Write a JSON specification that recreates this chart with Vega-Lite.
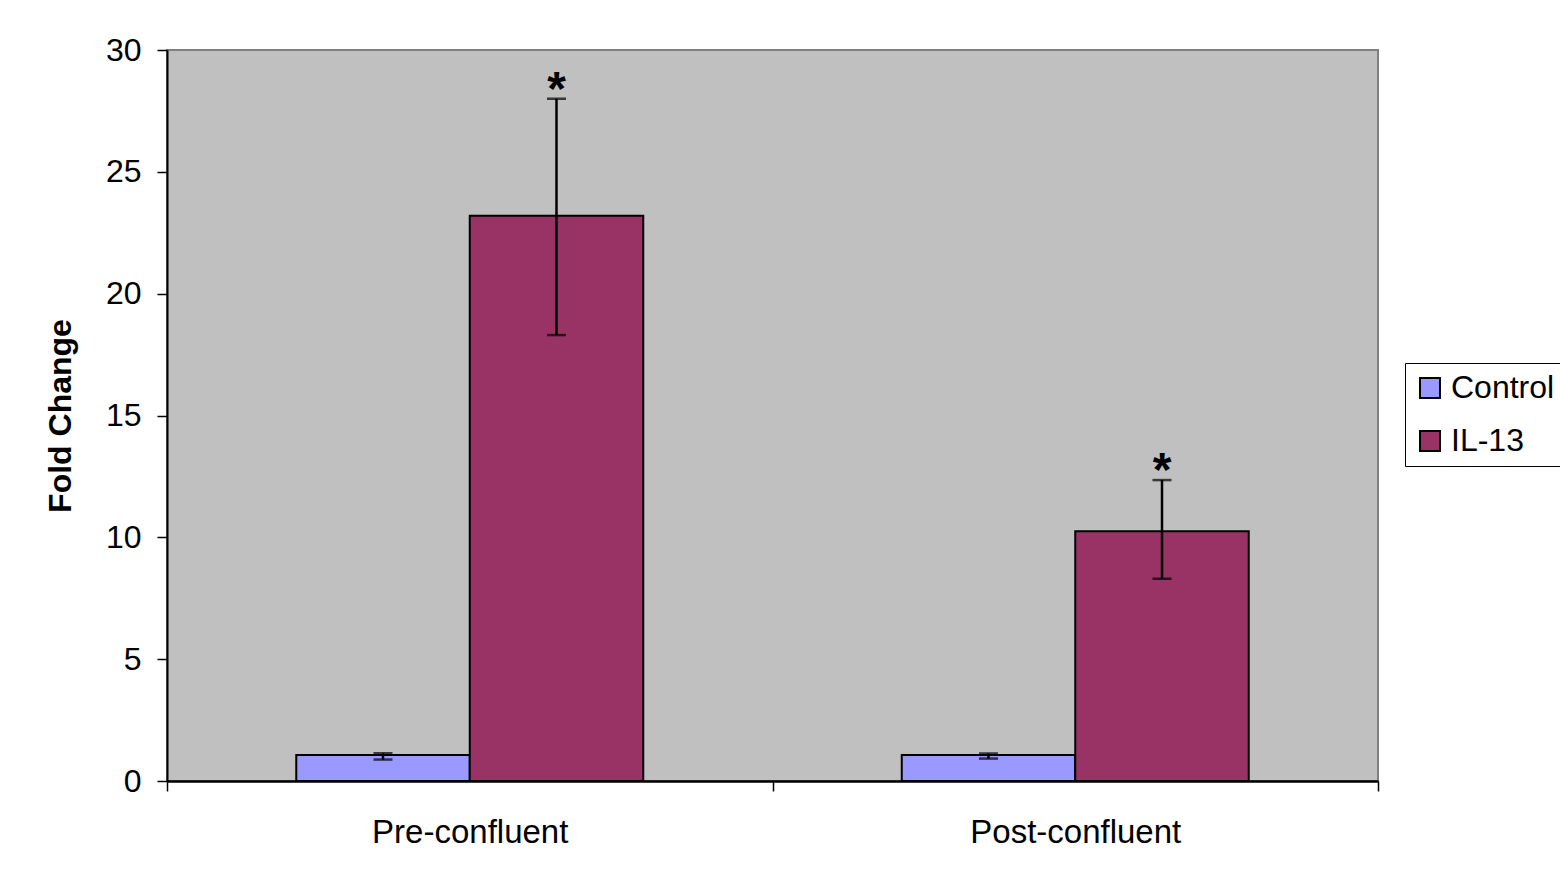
{
  "$schema": "https://vega.github.io/schema/vega-lite/v6.json",
  "width": 1211,
  "height": 731,
  "autosize": {"type": "none"},
  "padding": {"left": 167, "top": 50, "right": 182, "bottom": 99},
  "background": "white",
  "config": {
    "font": "Liberation Sans",
    "view": {"fill": "#c0c0c0", "stroke": "#808080", "strokeWidth": 2}
  },
  "data": {
    "values": [
      {"Stage": "Pre-confluent", "Treatment": "Control", "mean": 1.07, "lo": 0.88, "hi": 1.14, "sig": ""},
      {"Stage": "Pre-confluent", "Treatment": "IL-13", "mean": 23.2, "lo": 18.3, "hi": 28.0, "sig": "*"},
      {"Stage": "Post-confluent", "Treatment": "Control", "mean": 1.07, "lo": 0.92, "hi": 1.13, "sig": ""},
      {"Stage": "Post-confluent", "Treatment": "IL-13", "mean": 10.25, "lo": 8.3, "hi": 12.35, "sig": "*"}
    ]
  },
  "encoding": {
    "x": {
      "field": "Stage",
      "type": "nominal",
      "sort": ["Pre-confluent", "Post-confluent"],
      "scale": {"paddingInner": 0, "paddingOuter": 0},
      "axis": {
        "title": null,
        "labelAngle": 0,
        "labelLimit": 0,
        "labelFont": "Liberation Sans",
        "labelFontSize": 33,
        "labelColor": "black",
        "labelPadding": 25,
        "tickBand": "extent",
        "tickSize": 10,
        "tickWidth": 1.5,
        "tickColor": "black",
        "domainColor": "black",
        "domainWidth": 2.5
      }
    },
    "xOffset": {
      "field": "Treatment",
      "type": "nominal",
      "scale": {"paddingInner": 0, "paddingOuter": 0.745}
    }
  },
  "layer": [
    {
      "mark": {"type": "bar", "stroke": "black", "strokeWidth": 2},
      "encoding": {
        "y": {
          "field": "mean",
          "type": "quantitative",
          "scale": {"domain": [0, 30], "nice": false},
          "axis": {
            "title": "Fold Change",
            "titleFont": "Liberation Sans",
            "titleFontSize": 32,
            "titleFontWeight": "bold",
            "titleColor": "black",
            "titlePadding": 28,
            "values": [0, 5, 10, 15, 20, 25, 30],
            "grid": false,
            "labelFont": "Liberation Sans",
            "labelFontSize": 32,
            "labelColor": "black",
            "labelPadding": 16,
            "tickSize": 10,
            "tickWidth": 1.5,
            "tickColor": "black",
            "domainColor": "black",
            "domainWidth": 2
          }
        },
        "color": {
          "field": "Treatment",
          "type": "nominal",
          "scale": {"domain": ["Control", "IL-13"], "range": ["#9999ff", "#993366"]},
          "legend": {
            "title": null,
            "orient": "none",
            "legendX": 1238,
            "legendY": 313,
            "symbolType": "square",
            "symbolSize": 400,
            "symbolStrokeColor": "black",
            "symbolStrokeWidth": 2,
            "labelFont": "Liberation Sans",
            "labelFontSize": 32,
            "labelColor": "black",
            "labelOffset": 5,
            "rowPadding": 21,
            "padding": 9,
            "strokeColor": "black",
            "fillColor": "white"
          }
        }
      }
    },
    {
      "mark": {"type": "rule", "color": "black", "strokeWidth": 2.5},
      "encoding": {
        "y": {"field": "lo", "type": "quantitative"},
        "y2": {"field": "hi"}
      }
    },
    {
      "mark": {"type": "tick", "color": "black", "orient": "horizontal", "size": 19, "thickness": 2.5},
      "encoding": {"y": {"field": "hi", "type": "quantitative"}}
    },
    {
      "mark": {"type": "tick", "color": "black", "orient": "horizontal", "size": 19, "thickness": 2.5},
      "encoding": {"y": {"field": "lo", "type": "quantitative"}}
    },
    {
      "mark": {"type": "text", "font": "Liberation Sans", "fontSize": 48, "fontWeight": "bold", "baseline": "alphabetic", "dy": 6, "color": "black"},
      "encoding": {
        "y": {"field": "hi", "type": "quantitative"},
        "text": {"field": "sig"}
      }
    }
  ]
}
